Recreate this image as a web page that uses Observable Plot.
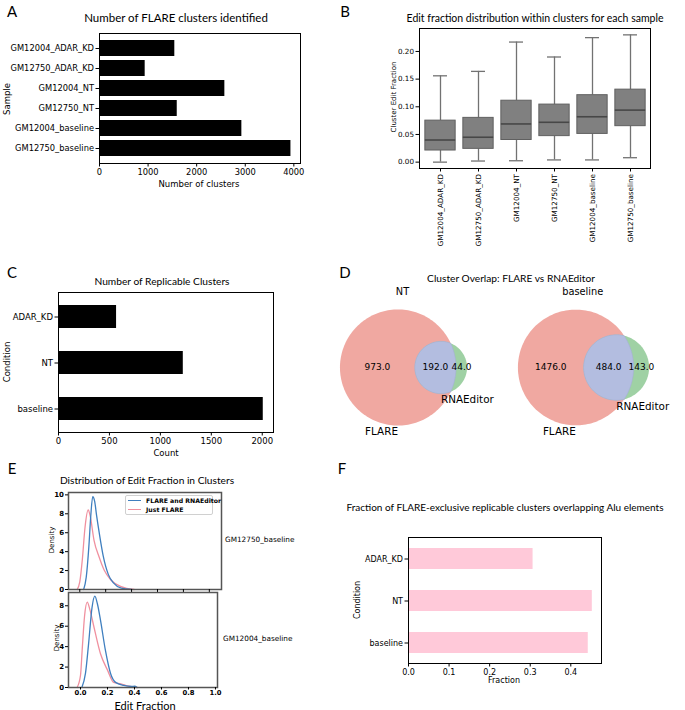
<!DOCTYPE html>
<html><head><meta charset="utf-8">
<script src="https://cdn.jsdelivr.net/npm/d3@7"></script>
<script src="https://cdn.jsdelivr.net/npm/@observablehq/plot@0.6"></script>
<style>
body{margin:0;background:#fff;}
#fig{position:relative;width:685px;height:710px;overflow:hidden;background:#fff;}
.t{position:absolute;white-space:nowrap;line-height:1;color:#000;}
.p{position:absolute;}
.p svg{max-width:none !important;}
</style></head><body><div id="fig"></div>
<script>
// ---------------- DATA ----------------
const samples = ["GM12004_ADAR_KD","GM12750_ADAR_KD","GM12004_NT","GM12750_NT","GM12004_baseline","GM12750_baseline"];
const clusterCounts = [1550, 940, 2580, 1600, 2930, 3940];
const countTicks = [0, 1000, 2000, 3000, 4000];

const boxMin = [0.000, 0.002, 0.0025, 0.004, 0.004, 0.008];
const boxQ1  = [0.021, 0.024, 0.040, 0.047, 0.051, 0.065];
const boxMed = [0.040, 0.045, 0.069, 0.072, 0.082, 0.094];
const boxQ3  = [0.075, 0.080, 0.111, 0.104, 0.121, 0.131];
const boxMax = [0.156, 0.164, 0.217, 0.190, 0.225, 0.230];
const fracTicks = [0, 0.05, 0.10, 0.15, 0.20];

const conditions = ["ADAR_KD", "NT", "baseline"];
const replicableCounts = [570, 1225, 2010];
const replicableTicks = [0, 500, 1000, 1500, 2000];

const vennSets = ["NT", "baseline"];
const flareOnly = [973, 1476];
const overlapBoth = [192, 484];
const rnaEditorOnly = [44, 143];

const aluFraction = [0.307, 0.453, 0.443];
const aluTicks = [0, 0.1, 0.2, 0.3, 0.4];

const editTicks = [0, 0.2, 0.4, 0.6, 0.8, 1.0];
// GM12750_baseline densities
const topBothX = [0.03, 0.05, 0.07, 0.085, 0.10, 0.115, 0.13, 0.15, 0.18, 0.22, 0.26, 0.32, 0.40];
const topBothY = [0.0, 1.3, 4.5, 7.8, 9.8, 9.3, 7.8, 6.0, 3.6, 1.6, 0.7, 0.15, 0.0];
const topJustX = [-0.02, 0.0, 0.02, 0.04, 0.065, 0.08, 0.11, 0.15, 0.19, 0.24, 0.32, 0.42];
const topJustY = [0.0, 0.8, 3.2, 6.5, 8.4, 7.8, 5.2, 3.4, 2.0, 1.0, 0.3, 0.0];
// GM12004_baseline densities
const botBothX = [0.01, 0.037, 0.06, 0.085, 0.106, 0.125, 0.148, 0.185, 0.222, 0.26, 0.32, 0.38, 0.40, 0.42];
const botBothY = [0.0, 1.4, 4.3, 7.8, 8.95, 8.2, 6.6, 3.6, 1.4, 0.5, 0.2, 0.1, 0.12, 0.0];
const botJustX = [-0.025, 0.0, 0.012, 0.03, 0.05, 0.07, 0.10, 0.148, 0.20, 0.245, 0.30, 0.35, 0.42];
const botJustY = [0.0, 1.2, 3.6, 7.0, 8.36, 7.6, 5.9, 3.3, 1.7, 0.5, 0.35, 0.15, 0.0];
const densityTopTicks = [0, 2, 4, 6, 8, 10];
const densityBotTicks = [0, 2, 4, 6, 8];

// ---------------- HELPERS ----------------
const fig = document.getElementById("fig");
function txt(s, x, y, o = {}) {
  const el = document.createElement("div");
  el.className = "t"; el.textContent = s;
  el.style.left = x + "px"; el.style.top = y + "px";
  el.style.fontSize = (o.size || 10) + "px";
  el.style.fontFamily = o.font || "Lato";
  if (o.weight) el.style.fontWeight = o.weight;
  const a = o.anchor || "middle";
  const tx = a === "middle" ? "-50%" : a === "end" ? "-100%" : "0";
  el.style.transform = `translate(${tx},-50%) rotate(${o.rotate || 0}deg)`;
  fig.appendChild(el);
  return el;
}
function place(svg, left, top) {
  const d = document.createElement("div");
  d.className = "p"; d.style.left = left + "px"; d.style.top = top + "px";
  d.appendChild(svg); fig.appendChild(d);
}
const baseStyle = {background: "transparent", fontFamily: "DejaVu Sans", color: "#000", overflow: "visible", fontSize: "8px"};
const DV = "DejaVu Sans";

// ---------------- PANEL A ----------------
const dataA = samples.map((s, i) => ({sample: s, count: clusterCounts[i]}));
place(Plot.plot({
  width: 310, height: 183, marginLeft: 99, marginTop: 33, marginRight: 10, marginBottom: 20,
  style: baseStyle,
  x: {domain: [0, d3.max(clusterCounts) * 1.05]},
  y: {domain: samples, paddingInner: 0.2, paddingOuter: 0.29},
  marks: [
    Plot.barX(dataA, {x: "count", y: "sample", fill: "#000"}),
    Plot.frame({stroke: "#000", strokeWidth: 1}),
    Plot.axisX({ticks: countTicks, tickFormat: d => String(d), tickSize: 3.5, tickPadding: 2, fontSize: 8.3, label: null}),
    Plot.axisY({tickSize: 3.5, tickPadding: 2, fontSize: 8.3, label: null})
  ]
}), 0, 0);
txt("A", 12, 11, {size: 15});
txt("Number of FLARE clusters identified", 176, 18, {size: 11.5});
txt("Sample", 7, 99, {size: 8.5, font: DV, rotate: -90});
txt("Number of clusters", 199, 184, {size: 8.5, font: DV});

// ---------------- PANEL B ----------------
const dataB = samples.map((s, i) => ({sample: s, lo: boxMin[i], q1: boxQ1[i], med: boxMed[i], q3: boxQ3[i], hi: boxMax[i]}));
const wh = {stroke: "#727272", strokeWidth: 1.3};
place(Plot.plot({
  width: 281, height: 225, marginLeft: 45, marginTop: 5, marginBottom: 80, marginRight: 5,
  style: baseStyle,
  x: {domain: samples, padding: 0},
  y: {domain: [-0.0115, 0.2415]},
  marks: [
    Plot.ruleX(dataB, {x: "sample", y1: "lo", y2: "q1", ...wh}),
    Plot.ruleX(dataB, {x: "sample", y1: "q3", y2: "hi", ...wh}),
    Plot.tickY(dataB, {x: "sample", y: "lo", insetLeft: 12, insetRight: 12, ...wh}),
    Plot.tickY(dataB, {x: "sample", y: "hi", insetLeft: 12, insetRight: 12, ...wh}),
    Plot.barY(dataB, {x: "sample", y1: "q1", y2: "q3", fill: "#808080", stroke: "#606060", strokeWidth: 1, insetLeft: 3.85, insetRight: 3.85}),
    Plot.tickY(dataB, {x: "sample", y: "med", stroke: "#474747", strokeWidth: 1.6, insetLeft: 3.85, insetRight: 3.85}),
    Plot.frame({stroke: "#000", strokeWidth: 1}),
    Plot.axisX({tickRotate: -90, tickSize: 3.5, tickPadding: 2, fontSize: 7.2, label: null}),
    Plot.axisY({ticks: fracTicks, tickFormat: ".2f", tickSize: 3.5, tickPadding: 2, fontSize: 7.2, label: null})
  ]
}), 374, 23);
txt("B", 345, 11, {size: 15});
txt("Edit fraction distribution within clusters for each sample", 535, 18, {size: 10.5});
txt("Cluster Edit Fraction", 394, 97, {size: 7, font: DV, rotate: -90});

// ---------------- PANEL C ----------------
const dataC = conditions.map((c, i) => ({cond: c, count: replicableCounts[i]}));
place(Plot.plot({
  width: 283, height: 160, marginLeft: 58, marginTop: 4, marginRight: 10, marginBottom: 16,
  style: baseStyle,
  x: {domain: [0, d3.max(replicableCounts) * 1.05]},
  y: {domain: conditions, paddingInner: 0.5, paddingOuter: 0.25},
  marks: [
    Plot.barX(dataC, {x: "count", y: "cond", fill: "#000"}),
    Plot.frame({stroke: "#000", strokeWidth: 1}),
    Plot.axisX({ticks: replicableTicks, tickFormat: d => String(d), tickSize: 3.5, tickPadding: 2, fontSize: 8.5, label: null}),
    Plot.axisY({tickSize: 3.5, tickPadding: 2, fontSize: 8.5, label: null})
  ]
}), 0, 288);
txt("C", 12, 272, {size: 15});
txt("Number of Replicable Clusters", 162, 281, {size: 10.2});
txt("Condition", 7, 362, {size: 8.5, font: DV, rotate: -90});
txt("Count", 166, 453, {size: 8.5, font: DV});

// ---------------- PANEL D (Venn) ----------------
function lensArea(r1, r2, d) {
  if (d >= r1 + r2) return 0;
  if (d <= Math.abs(r1 - r2)) return Math.PI * Math.min(r1, r2) ** 2;
  const a = r1 * r1 * Math.acos((d * d + r1 * r1 - r2 * r2) / (2 * d * r1));
  const b = r2 * r2 * Math.acos((d * d + r2 * r2 - r1 * r1) / (2 * d * r2));
  const c = 0.5 * Math.sqrt((-d + r1 + r2) * (d + r1 - r2) * (d - r1 + r2) * (d + r1 + r2));
  return a + b - c;
}
function solveD(r1, r2, area) {
  let lo = Math.abs(r1 - r2), hi = r1 + r2;
  for (let i = 0; i < 80; i++) { const m = (lo + hi) / 2; if (lensArea(r1, r2, m) > area) lo = m; else hi = m; }
  return (lo + hi) / 2;
}
const AXES_H = 137, VW = 180, VH = 200, VCY = 367;
const vennCenters = [402.5, 582.75];
vennSets.forEach((name, i) => {
  const a = flareOnly[i], ab = overlapBoth[i], b = rnaEditorOnly[i];
  const tot = a + ab + b;
  const rA = Math.sqrt((a + ab) / tot / Math.PI), rB = Math.sqrt((b + ab) / tot / Math.PI);
  const d = solveD(rA, rB, ab / tot);
  const xmin = Math.min(-rA, d - rB), xmax = Math.max(rA, d + rB), rmax = Math.max(rA, rB);
  const bx = (xmin + xmax) / 2;
  const k = AXES_H / (2 * rmax + 0.2);
  const circ = (cx, r) => d3.range(0, 180).map(j => { const t = j / 180 * 2 * Math.PI; return {x: cx + r * Math.cos(t), y: r * Math.sin(t)}; });
  const x0 = (d * d + rA * rA - rB * rB) / (2 * d), h = Math.sqrt(Math.max(0, rA * rA - x0 * x0));
  const tA = Math.atan2(h, x0), tB = Math.atan2(h, d - x0);
  const lens = [
    ...d3.range(0, 91).map(j => { const t = -tA + 2 * tA * j / 90; return {x: rA * Math.cos(t), y: rA * Math.sin(t)}; }),
    ...d3.range(0, 91).map(j => { const t = Math.PI - tB + 2 * tB * j / 90; return {x: d + rB * Math.cos(t), y: rB * Math.sin(t)}; })
  ];
  const subsetLabels = [
    {x: (-rA + d - rB) / 2, t: a.toFixed(1)},
    {x: (d - rB + rA) / 2, t: ab.toFixed(1)},
    {x: (rA + d + rB) / 2, t: b.toFixed(1)}
  ];
  const svg = Plot.plot({
    width: VW, height: VH, margin: 0,
    style: {...baseStyle},
    x: {domain: [bx - VW / 2 / k, bx + VW / 2 / k], axis: null},
    y: {domain: [-VH / 2 / k, VH / 2 / k], axis: null},
    marks: [
      Plot.line(circ(0, rA), {x: "x", y: "y", fill: "#f0a8a1", stroke: "none", curve: "linear-closed"}),
      Plot.line(circ(d, rB), {x: "x", y: "y", fill: "#9fd1a4", stroke: "none", curve: "linear-closed"}),
      Plot.line(lens, {x: "x", y: "y", fill: "#b3bde0", stroke: "#a4aed6", strokeWidth: 0.6, curve: "linear-closed"}),
      Plot.text(subsetLabels, {x: "x", y: () => 0, text: "t", fontSize: 9, fill: "#000"}),
      Plot.text([{x: 0, y: -rA, t: "FLARE"}], {x: "x", y: "y", text: "t", textAnchor: "end", lineAnchor: "top", dy: 2, fontSize: 10.4}),
      Plot.text([{x: d, y: -rB, t: "RNAEditor"}], {x: "x", y: "y", text: "t", textAnchor: "start", lineAnchor: "top", dy: 2, fontSize: 10.4})
    ]
  });
  place(svg, vennCenters[i] - VW / 2, VCY - VH / 2);
  txt(name, vennCenters[i], VCY - 75, {size: 9.8, font: DV});
});
txt("D", 345, 272, {size: 15});
txt("Cluster Overlap: FLARE vs RNAEditor", 511, 278, {size: 10.2});

// ---------------- PANEL E ----------------
const blue = "#3f7fbf", pink = "#f0909f";
const toPts = (xs, ys) => xs.map((x, i) => ({x, y: ys[i]}));
const eStyle = {...baseStyle};
place(Plot.plot({
  width: 186, height: 103, marginLeft: 30, marginTop: 3, marginRight: 3, marginBottom: 3,
  style: eStyle,
  x: {domain: [-0.087, 1.094]},
  y: {domain: [0, 10.25]},
  marks: [
    Plot.line(toPts(topJustX, topJustY), {x: "x", y: "y", stroke: pink, strokeWidth: 1.3, curve: "monotone-x"}),
    Plot.line(toPts(topBothX, topBothY), {x: "x", y: "y", stroke: blue, strokeWidth: 1.3, curve: "monotone-x"}),
    Plot.frame({stroke: "#555", strokeWidth: 1.5}),
    Plot.axisX({ticks: editTicks, tickFormat: () => "", tickSize: 3, label: null}),
    Plot.axisY({ticks: densityTopTicks, tickFormat: d => String(d), tickSize: 3, tickPadding: 1.5, fontSize: 7, fontWeight: "bold", label: null})
  ]
}), 38, 489);
place(Plot.plot({
  width: 183, height: 112, marginLeft: 30, marginTop: 3, marginRight: 4, marginBottom: 14,
  style: eStyle,
  x: {domain: [-0.089, 1.015]},
  y: {domain: [0, 9.3]},
  marks: [
    Plot.line(toPts(botJustX, botJustY), {x: "x", y: "y", stroke: pink, strokeWidth: 1.3, curve: "monotone-x"}),
    Plot.line(toPts(botBothX, botBothY), {x: "x", y: "y", stroke: blue, strokeWidth: 1.3, curve: "monotone-x"}),
    Plot.frame({stroke: "#555", strokeWidth: 1.5}),
    Plot.axisX({ticks: editTicks, tickFormat: ".1f", tickSize: 2.5, tickPadding: 0.5, fontSize: 6.8, fontWeight: "bold", label: null}),
    Plot.axisY({ticks: densityBotTicks, tickFormat: d => String(d), tickSize: 3, tickPadding: 1.5, fontSize: 7, fontWeight: "bold", label: null})
  ]
}), 38, 589);
txt("E", 12, 468, {size: 15});
txt("Distribution of Edit Fraction in Clusters", 147, 480, {size: 10.2});
txt("Density", 52, 540, {size: 7, font: DV, rotate: -90});
txt("Density", 57, 638, {size: 7, font: DV, rotate: -90});
txt("Edit Fraction", 145, 704.5, {size: 11});
txt("GM12750_baseline", 225, 540, {size: 7.3, font: DV, anchor: "start"});
txt("GM12004_baseline", 223, 639, {size: 7.3, font: DV, anchor: "start"});
// legend
const leg = document.createElement("div");
leg.style.cssText = "position:absolute;left:125px;top:495px;width:88px;height:20px;border:1px solid #d0d0d0;border-radius:2px;background:rgba(255,255,255,0.85);box-sizing:border-box;";
fig.appendChild(leg);
[["FLARE and RNAEditor", blue, 500.5], ["Just FLARE", pink, 509.5]].forEach(([lab, col, y]) => {
  const ln = document.createElement("div");
  ln.style.cssText = `position:absolute;left:128px;top:${y - 0.7}px;width:13px;height:1.4px;background:${col};`;
  fig.appendChild(ln);
  txt(lab, 146, y, {size: 6.2, font: DV, anchor: "start", weight: "bold"});
});

// ---------------- PANEL F ----------------
const dataF = conditions.map((c, i) => ({cond: c, frac: aluFraction[i]}));
place(Plot.plot({
  width: 259, height: 146, marginLeft: 60, marginTop: 4, marginRight: 6, marginBottom: 16,
  style: baseStyle,
  x: {domain: [0, d3.max(aluFraction) * 1.05]},
  y: {domain: conditions, paddingInner: 0.5, paddingOuter: 0.25},
  marks: [
    Plot.barX(dataF, {x: "frac", y: "cond", fill: "#ffc9d9"}),
    Plot.frame({stroke: "#000", strokeWidth: 1}),
    Plot.axisX({ticks: aluTicks, tickFormat: ".1f", tickSize: 3.5, tickPadding: 2, fontSize: 8, label: null}),
    Plot.axisY({tickSize: 3.5, tickPadding: 2, fontSize: 8, label: null})
  ]
}), 348, 533);
txt("F", 342, 468, {size: 15});
txt("Fraction of FLARE-exclusive replicable clusters overlapping Alu elements", 505, 507, {size: 10});
txt("Condition", 358, 600, {size: 8, font: DV, rotate: -90});
txt("Fraction", 504, 681, {size: 8, font: DV});
</script></body></html>
